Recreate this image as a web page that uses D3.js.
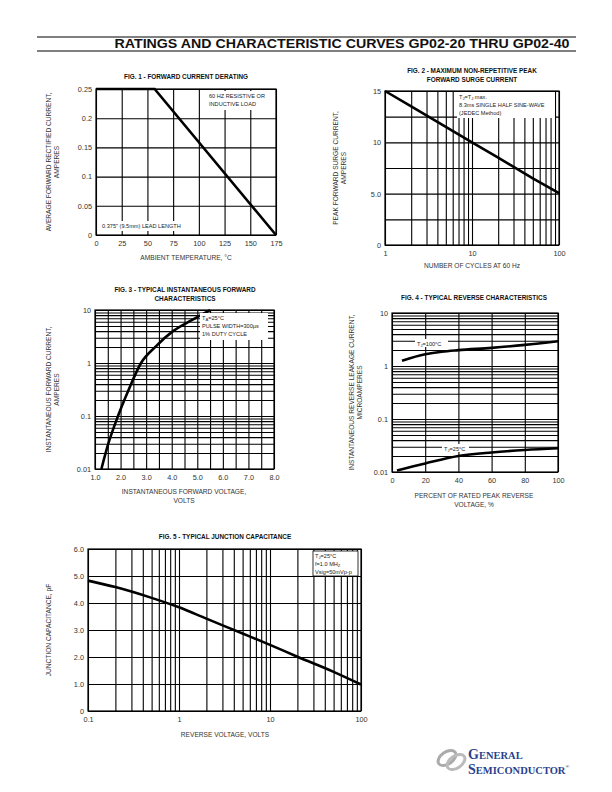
<!DOCTYPE html>
<html><head><meta charset="utf-8">
<script src="https://cdn.jsdelivr.net/npm/d3@7"></script>
<style>
html,body{margin:0;padding:0;background:#fff;}
svg{display:block;font-family:"Liberation Sans",Arial,Helvetica,sans-serif;}
</style></head><body>
<svg id="c" width="612" height="792"></svg>
<script>
// ---------- DATA ----------
const fig1Temp = [0, 57, 175];
const fig1Current = [0.25, 0.25, 0];
const fig1XTicks = [0, 25, 50, 75, 100, 125, 150, 175];
const fig1YTicks = [0, 0.05, 0.1, 0.15, 0.2, 0.25];
const fig1YLabels = ["0", "0.05", "0.1", "0.15", "0.2", "0.25"];

const fig2Cycles = [1, 2, 5, 10, 20, 50, 100];
const fig2Surge = [15, 13.5, 11.5, 10, 8.5, 6.5, 5.05];
const fig2XTicks = [1, 10, 100];
const fig2YGrid = [0, 2.5, 5, 7.5, 10, 12.5, 15];
const fig2YTicks = [0, 5, 10, 15];
const fig2YLabels = ["0", "5.0", "10", "15"];

const fig3Voltage = [1.25, 1.52, 1.9, 2.3, 2.8, 3.35, 4.05, 4.8, 5.5];
const fig3Current = [0.01, 0.03, 0.1, 0.3, 1, 2, 4, 6.5, 10];
const fig3XTicks = [1, 2, 3, 4, 5, 6, 7, 8];
const fig3XGrid = [1, 1.5, 2, 2.5, 3, 3.5, 4, 4.5, 5, 5.5, 6, 6.5, 7, 7.5, 8];
const fig3YTicks = [0.01, 0.1, 1, 10];
const fig3YLabels = ["0.01", "0.1", "1", "10"];

const fig4Percent100 = [6, 20, 30, 40, 60, 80, 100];
const fig4Leak100 = [1.26, 1.66, 1.86, 1.99, 2.2, 2.5, 2.94];
const fig4Percent25 = [3, 20, 40, 60, 80, 100];
const fig4Leak25 = [0.0107, 0.0145, 0.02, 0.0234, 0.026, 0.028];
const fig4XTicks = [0, 20, 40, 60, 80, 100];
const fig4YTicks = [0.01, 0.1, 1, 10];
const fig4YLabels = ["0.01", "0.1", "1", "10"];

const fig5Voltage = [0.1, 0.2, 0.5, 1, 2, 5, 10, 20, 50, 100];
const fig5Cap = [4.83, 4.59, 4.19, 3.84, 3.42, 2.87, 2.45, 2.01, 1.45, 0.98];
const fig5XTicks = [0.1, 1, 10, 100];
const fig5XLabels = ["0.1", "1", "10", "100"];
const fig5YTicks = [0, 1, 2, 3, 4, 5, 6];
const fig5YLabels = ["0", "1.0", "2.0", "3.0", "4.0", "5.0", "6.0"];

// ---------- DRAW ----------
const svg = d3.select("#c");
const TXT = "#333";

// header
svg.append("line").attr("x1", 37).attr("x2", 576).attr("y1", 37).attr("y2", 37).attr("stroke", "#000").attr("stroke-width", 1);
svg.append("line").attr("x1", 37).attr("x2", 576).attr("y1", 51).attr("y2", 51).attr("stroke", "#000").attr("stroke-width", 1);
svg.append("text").attr("x", 342).attr("y", 48).attr("text-anchor", "middle")
  .attr("font-size", 12).attr("font-weight", "bold").attr("fill", "#111")
  .attr("textLength", 455).attr("lengthAdjust", "spacingAndGlyphs")
  .text("RATINGS AND CHARACTERISTIC CURVES GP02-20 THRU GP02-40");

function logGrid(lo, hi) {
  const out = [];
  for (let e = Math.round(Math.log10(lo)); Math.pow(10, e) <= hi * 1.0001; e++) {
    for (let m = 1; m <= 9; m++) {
      const v = m * Math.pow(10, e);
      if (v >= lo * 0.9999 && v <= hi * 1.0001) out.push(v);
    }
  }
  return out;
}

function chart(o) {
  const g = svg.append("g");
  const x = (o.xlog ? d3.scaleLog() : d3.scaleLinear()).domain(o.xd).range([o.x0, o.x1]);
  const y = (o.ylog ? d3.scaleLog() : d3.scaleLinear()).domain(o.yd).range([o.y1, o.y0]);
  const W = o.x1 - o.x0, H = o.y1 - o.y0;
  // grid
  g.append("g").attr("transform", `translate(0,${o.y1})`)
    .call(d3.axisBottom(x).tickValues(o.xGrid).tickSize(-H).tickFormat(""))
    .call(s => { s.select(".domain").remove(); s.selectAll("line").attr("stroke", "#000").attr("stroke-width", 1.1); });
  g.append("g").attr("transform", `translate(${o.x0},0)`)
    .call(d3.axisLeft(y).tickValues(o.yGrid).tickSize(-W).tickFormat(""))
    .call(s => { s.select(".domain").remove(); s.selectAll("line").attr("stroke", "#000").attr("stroke-width", 1.1); });
  // frame
  g.append("rect").attr("x", o.x0).attr("y", o.y0).attr("width", W).attr("height", H)
    .attr("fill", "none").attr("stroke", "#000").attr("stroke-width", 1.2);
  // tick labels
  g.append("g").attr("transform", `translate(0,${o.y1})`)
    .call(d3.axisBottom(x).tickValues(o.xTicks).tickSize(0).tickPadding(o.xPad || 6)
      .tickFormat((d, i) => o.xLabels ? o.xLabels[i] : d))
    .call(s => { s.select(".domain").remove(); s.selectAll("text").attr("font-size", 7.3).attr("fill", TXT).attr("font-family", null); });
  g.append("g").attr("transform", `translate(${o.x0},0)`)
    .call(d3.axisLeft(y).tickValues(o.yTicks).tickSize(0).tickPadding(4)
      .tickFormat((d, i) => o.yLabels[i]))
    .call(s => { s.select(".domain").remove(); s.selectAll("text").attr("font-size", 7.3).attr("fill", TXT).attr("font-family", null); });
  // title
  o.title.forEach((t, i) => g.append("text").attr("x", o.tx).attr("y", o.ty + i * 8.5)
    .attr("text-anchor", "middle").attr("font-size", 6.4).attr("font-weight", "bold").attr("fill", "#111").text(t));
  // x label
  o.xTitle.forEach((t, i) => g.append("text").attr("x", o.xtx).attr("y", o.xty + i * 9)
    .attr("text-anchor", "middle").attr("font-size", 6.6).attr("fill", TXT).text(t));
  // y label
  o.yTitle.forEach((t, i) => g.append("text").attr("transform", `translate(${o.ytx + i * 8},${(o.y0 + o.y1) / 2 + (o.ytdy || 0)}) rotate(-90)`)
    .attr("text-anchor", "middle").attr("font-size", 6.6).attr("fill", TXT).text(t));
  // curves
  const line = d3.line().x(d => x(d[0])).y(d => y(d[1])).curve(o.curve || d3.curveMonotoneX);
  o.series.forEach(s => {
    g.append("path").datum(d3.zip(s.xs, s.ys)).attr("d", line)
      .attr("fill", "none").attr("stroke", "#000").attr("stroke-width", 2.6).attr("stroke-linecap", "butt");
  });
  return { g, x, y };
}

function note(g, bx, by, bw, bh, lines, border, fs) {
  g.append("rect").attr("x", bx).attr("y", by).attr("width", bw).attr("height", bh)
    .attr("fill", "#fff").attr("stroke", border ? "#000" : "none").attr("stroke-width", 0.8);
  lines.forEach((l, i) => {
    const t = g.append("text").attr("x", bx + 2).attr("y", by + 6.5 + i * 8).attr("font-size", fs || 5.6).attr("fill", "#222");
    l.forEach(p => {
      const ts = t.append("tspan").text(p[0]);
      if (p[1] === "sub") ts.attr("font-size", 4.2).attr("dy", 1.2);
      if (p[1] === "base") ts.attr("dy", -1.2);
    });
  });
}

// FIG 1
const f1 = chart({
  x0: 96, x1: 276, y0: 89, y1: 235,
  xd: [0, 175], yd: [0, 0.25],
  xGrid: fig1XTicks, yGrid: fig1YTicks,
  xTicks: fig1XTicks, yTicks: fig1YTicks, yLabels: fig1YLabels,
  title: ["FIG. 1 - FORWARD CURRENT DERATING"], tx: 186, ty: 79,
  xTitle: ["AMBIENT TEMPERATURE, \u00B0C"], xtx: 186, xty: 260,
  yTitle: ["AVERAGE FORWARD RECTIFIED CURRENT,", "AMPERES"], ytx: 51,
  series: [{ xs: fig1Temp, ys: fig1Current }], curve: d3.curveLinear
});
note(f1.g, 207, 91, 62, 19, [[["60 HZ RESISTIVE OR"]], [["INDUCTIVE LOAD"]]]);
note(f1.g, 100, 221, 90, 10, [[["0.375\" (9.5mm) LEAD LENGTH"]]]);

// FIG 2
const f2 = chart({
  x0: 385, x1: 559, y0: 91, y1: 245, xlog: true,
  xd: [1, 100], yd: [0, 15],
  xGrid: logGrid(1, 100), yGrid: fig2YGrid,
  xTicks: fig2XTicks, yTicks: fig2YTicks, yLabels: fig2YLabels,
  title: ["FIG. 2 - MAXIMUM NON-REPETITIVE PEAK", "FORWARD SURGE CURRENT"], tx: 472, ty: 73,
  xTitle: ["NUMBER OF CYCLES AT 60 Hz"], xtx: 472, xty: 268,
  yTitle: ["PEAK  FORWARD SURGE CURRENT,", "AMPERES"], ytx: 338,
  series: [{ xs: fig2Cycles, ys: fig2Surge }], curve: d3.curveLinear
});
note(f2.g, 457, 92, 98, 26, [[["T"], ["J", "sub"], ["=T", "base"], ["J", "sub"], [" max.", "base"]], [["8.3ms SINGLE HALF SINE-WAVE"]], [["(JEDEC Method)"]]]);

// FIG 3
const f3 = chart({
  x0: 95, x1: 274, y0: 310, y1: 469, ylog: true,
  xd: [1, 8], yd: [0.01, 10],
  xGrid: fig3XGrid, yGrid: logGrid(0.01, 10),
  xTicks: fig3XTicks, xLabels: fig3XTicks.map(d => d.toFixed(1)), yTicks: fig3YTicks, yLabels: fig3YLabels,
  title: ["FIG. 3 - TYPICAL INSTANTANEOUS FORWARD", "CHARACTERISTICS"], tx: 185, ty: 292,
  xTitle: ["INSTANTANEOUS FORWARD VOLTAGE,", "VOLTS"], xtx: 184, xty: 494,
  yTitle: ["INSTANTANEOUS FORWARD CURRENT,", "AMPERES"], ytx: 51,
  series: [{ xs: fig3Voltage, ys: fig3Current }]
});
note(f3.g, 200, 313, 68, 27, [[["T"], ["A", "sub"], ["=25\u00B0C", "base"]], [["PULSE WIDTH=300\u00B5s"]], [["1% DUTY CYCLE"]]]);

// FIG 4
const f4 = chart({
  x0: 392, x1: 558, y0: 313, y1: 472, ylog: true,
  xd: [0, 100], yd: [0.01, 10],
  xGrid: fig4XTicks, yGrid: logGrid(0.01, 10),
  xTicks: fig4XTicks, yTicks: fig4YTicks, yLabels: fig4YLabels,
  title: ["FIG. 4 - TYPICAL REVERSE CHARACTERISTICS"], tx: 474, ty: 300,
  xTitle: ["PERCENT OF RATED PEAK REVERSE", "VOLTAGE, %"], xtx: 474, xty: 498,
  yTitle: ["INSTANTANEOUS REVERSE LEAKAGE CURRENT,", "MICROAMPERES"], ytx: 354,
  series: [{ xs: fig4Percent100, ys: fig4Leak100 }, { xs: fig4Percent25, ys: fig4Leak25 }]
});
note(f4.g, 415, 339, 33, 8, [[["T"], ["J", "sub"], ["=100\u00B0C", "base"]]]);
note(f4.g, 442, 444, 27, 8, [[["T"], ["J", "sub"], ["=25\u00B0C", "base"]]]);

// FIG 5
const f5 = chart({
  x0: 88, x1: 361, y0: 549, y1: 711, xlog: true,
  xd: [0.1, 100], yd: [0, 6],
  xGrid: logGrid(0.1, 100), yGrid: fig5YTicks,
  xTicks: fig5XTicks, xLabels: fig5XLabels, yTicks: fig5YTicks, yLabels: fig5YLabels,
  title: ["FIG. 5 - TYPICAL JUNCTION CAPACITANCE"], tx: 225, ty: 539,
  xTitle: ["REVERSE VOLTAGE, VOLTS"], xtx: 225, xty: 737,
  yTitle: ["JUNCTION CAPACITANCE, pF"], ytx: 51,
  series: [{ xs: fig5Voltage, ys: fig5Cap }]
});
note(f5.g, 313, 551, 45, 25, [[["T"], ["J", "sub"], ["=25\u00B0C", "base"]], [["f=1.0 MH"], ["Z", "sub"]], [["Vsig=50mVp-p"]]], true);

// LOGO
const lg = svg.append("g");
lg.append("ellipse").attr("cx", 447).attr("cy", 758).attr("rx", 10).attr("ry", 6).attr("fill", "none").attr("stroke", "#aaa").attr("stroke-width", 3).attr("transform", "rotate(-35 447 758)");
lg.append("ellipse").attr("cx", 456).attr("cy", 762).attr("rx", 10).attr("ry", 6).attr("fill", "none").attr("stroke", "#bbb").attr("stroke-width", 3).attr("transform", "rotate(-35 456 762)");
const t1 = lg.append("text").attr("x", 468).attr("y", 759).attr("font-family", "'Liberation Serif','DejaVu Serif',serif").attr("font-weight", "bold").attr("fill", "#2b3f8c");
t1.append("tspan").attr("font-size", 14).text("G");
t1.append("tspan").attr("font-size", 10.5).text("ENERAL");
const t2 = lg.append("text").attr("x", 468).attr("y", 774).attr("font-family", "'Liberation Serif','DejaVu Serif',serif").attr("font-weight", "bold").attr("fill", "#2b3f8c");
t2.append("tspan").attr("font-size", 14).text("S");
t2.append("tspan").attr("font-size", 10.5).text("EMICONDUCTOR");
t2.append("tspan").attr("font-size", 5).attr("dy", -6).text("\u00AE");
</script></body></html>
